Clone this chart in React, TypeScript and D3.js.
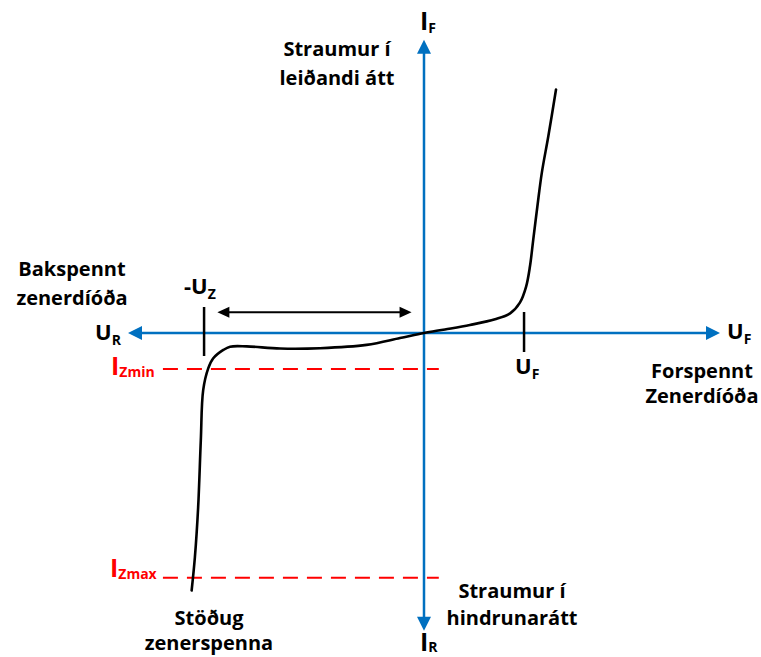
import React from 'react';
import * as d3 from 'd3';

const W = 761;
const H = 657;

// characteristic curve of the zener diode (voltage, current), arbitrary units
const curveU = [4.46, 4.2, 3.98, 3.83, 3.69, 3.58, 3.45, 3.24, 2.91, 2.4, 1.55, 0.71, 0, -0.81, -1.94, -3.51, -4.86, -5.99, -6.55, -6.78, -7.12, -7.29, -7.46, -7.54, -7.63, -7.74, -7.85];
const curveI = [8.18, 6.61, 5.38, 4.25, 3.13, 2.24, 1.56, 1.02, 0.66, 0.46, 0.27, 0.12, 0, -0.17, -0.4, -0.51, -0.52, -0.45, -0.46, -0.57, -0.85, -1.19, -1.92, -3.6, -5.85, -7.53, -8.65];

// axis extents
const axisU = [-10, 10];
const axisI = [-10, 9.85];

// marked voltages and currents
const uZener = -7.43;
const uForward = 3.38;
const iZmin = -1.21;
const iZmax = -8.22;
const dashU = [-8.82, 0.5];
const spanU = [-6.98, -0.42];
const spanI = 0.7;

const BLUE = '#0070C0';
const RED = '#FF0000';
const FONT = '"Open Sans", Lato, sans-serif';

const x = d3.scaleLinear().domain([-10, 10]).range([128, 720]);
const y = d3.scaleLinear().domain([-10, 10]).range([630.7, 35.3]);

const line = d3.line<number>()
  .x((_, i) => x(curveU[i]))
  .y((_, i) => y(curveI[i]))
  .curve(d3.curveCatmullRom.alpha(0.5));

// filled arrow head at tip (tx,ty), pointing in direction (dx,dy)
const head = (tx: number, ty: number, dx: number, dy: number, len = 14, half = 7) => {
  const bx = tx - dx * len;
  const by = ty - dy * len;
  return `M${tx},${ty}L${bx - dy * half},${by + dx * half}L${bx + dy * half},${by - dx * half}Z`;
};

const Sub = ({ x: tx, y: ty, main, sub, size = 22, subSize = 14, fill = '#000', drop = 5 }: any) => (
  <text x={tx} y={ty} fontFamily={FONT} fontWeight={700} fontSize={size} fill={fill}>
    {main}
    <tspan fontSize={subSize} dy={drop}>{sub}</tspan>
  </text>
);

const Lines = ({ cx, y0, lines, gap = 29, anchor = 'middle' }: any) => (
  <text fontFamily={FONT} fontWeight={700} fontSize={20} textAnchor={anchor}>
    {lines.map((t: string, i: number) => (
      <tspan key={i} x={cx} y={y0 + i * gap}>{t}</tspan>
    ))}
  </text>
);

export default function App() {
  const x0 = x(0);
  const y0 = y(0);
  return (
    <svg width={W} height={H} style={{ position: 'absolute', left: 0, top: 0, background: '#fff' }}>
      {/* red current limits */}
      {[iZmin, iZmax].map((v, i) => (
        <line key={i} x1={x(dashU[0])} x2={x(dashU[1])} y1={y(v)} y2={y(v)}
          stroke={RED} strokeWidth={2} strokeDasharray="15 9" />
      ))}

      {/* axes */}
      <line x1={x(axisU[0]) + 10} x2={x(axisU[1]) - 10} y1={y0} y2={y0} stroke={BLUE} strokeWidth={2.5} />
      <line x1={x0} x2={x0} y1={y(axisI[0]) - 10} y2={y(axisI[1]) + 10} stroke={BLUE} strokeWidth={2.5} />
      <path d={head(x(axisU[0]), y0, -1, 0)} fill={BLUE} />
      <path d={head(x(axisU[1]), y0, 1, 0)} fill={BLUE} />
      <path d={head(x0, y(axisI[1]), 0, -1)} fill={BLUE} />
      <path d={head(x0, y(axisI[0]), 0, 1)} fill={BLUE} />

      {/* ticks */}
      <line x1={x(uZener)} x2={x(uZener)} y1={y0 - 26} y2={y0 + 23} stroke="#000" strokeWidth={2.5} />
      <line x1={x(uForward)} x2={x(uForward)} y1={y0 - 21} y2={y0 + 19} stroke="#000" strokeWidth={2.5} />

      {/* double arrow for the zener voltage */}
      <line x1={x(spanU[0]) + 8} x2={x(spanU[1]) - 8} y1={y(spanI)} y2={y(spanI)} stroke="#000" strokeWidth={2} />
      <path d={head(x(spanU[0]), y(spanI), -1, 0, 12, 5.5)} fill="#000" />
      <path d={head(x(spanU[1]), y(spanI), 1, 0, 12, 5.5)} fill="#000" />

      {/* characteristic */}
      <path d={line(curveU) || ''} fill="none" stroke="#000" strokeWidth={2.6} strokeLinecap="round" />

      {/* labels */}
      <Sub x={420} y={30} main="I" sub="F" size={25} subSize={14} drop={3} />
      <Sub x={420} y={651} main="I" sub="R" size={25} subSize={14} drop={1} />
      <Sub x={95} y={340} main="U" sub="R" />
      <Sub x={727} y={339} main="U" sub="F" />
      <Sub x={515} y={374} main="U" sub="F" />
      <Sub x={184} y={294} main="-U" sub="Z" />
      <Sub x={111} y={375} main="I" sub="Zmin" size={25} subSize={14} drop={2} fill={RED} />
      <Sub x={110} y={577} main="I" sub="Zmax" size={25} subSize={14} drop={2} fill={RED} />

      <Lines cx={337} y0={56} lines={['Straumur í', 'leiðandi átt']} />
      <Lines cx={72} y0={276} lines={['Bakspennt', 'zenerdíóða']} />
      <Lines cx={702} y0={378} lines={['Forspennt', 'Zenerdíóða']} gap={25} />
      <Lines cx={209} y0={625} lines={['Stöðug', 'zenerspenna']} gap={25} />
      <Lines cx={512} y0={598} lines={['Straumur í', 'hindrunarátt']} gap={27} />
    </svg>
  );
}
